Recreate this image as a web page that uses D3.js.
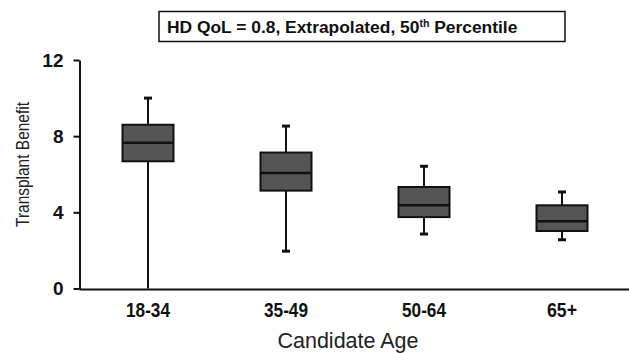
<!DOCTYPE html>
<html>
<head>
<meta charset="utf-8">
<script src="https://cdn.jsdelivr.net/npm/d3@7"></script>
<style>
  body { margin: 0; background: #fff; }
  svg { font-family: "Liberation Sans", Arial, sans-serif; }
</style>
</head>
<body>
<svg id="chart" width="629" height="353"></svg>
<script>
// values
const ages = ['18-34', '35-49', '50-64', '65+'];
const whiskerLow = [0, 1.96, 2.86, 2.56];
const q1 = [6.68, 5.14, 3.75, 3.02];
const medians = [7.65, 6.07, 4.37, 3.53];
const q3 = [8.6, 7.14, 5.33, 4.37];
const whiskerHigh = [10.0, 8.53, 6.42, 5.07];
const yTicks = [0, 4, 8, 12];

const svg = d3.select('#chart');

const x = d3.scaleBand().domain(ages).range([79, 631]);
const y = d3.scaleLinear().domain([0, 12]).range([288.5, 60]);

const boxW = 51;

// title box
svg.append('rect')
  .attr('x', 159).attr('y', 11.5).attr('width', 406).attr('height', 30)
  .attr('fill', '#fff').attr('stroke', '#111').attr('stroke-width', 1.5);
const title = svg.append('text')
  .attr('x', 167).attr('y', 33)
  .attr('font-size', 17.4).attr('font-weight', 'bold').attr('fill', '#111');
title.append('tspan').text('HD QoL = 0.8, Extrapolated, 50');
title.append('tspan').attr('font-size', 10.5).attr('dy', -6).text('th');
title.append('tspan').attr('dy', 6).text(' Percentile');

// y axis
const yAxis = svg.append('g')
  .attr('transform', 'translate(79.5,0)')
  .call(d3.axisLeft(y).tickValues(yTicks).tickSize(6).tickPadding(10).tickSizeOuter(0));
yAxis.select('.domain').attr('stroke', '#111').attr('stroke-width', 2);
yAxis.selectAll('.tick line').attr('stroke', '#111').attr('stroke-width', 2);
yAxis.selectAll('.tick text')
  .attr('font-size', 19).attr('font-weight', 'bold').attr('fill', '#111')
  .attr('font-family', '"Liberation Sans", Arial, sans-serif');

// x axis
const xAxis = svg.append('g')
  .attr('transform', 'translate(0,289)')
  .call(d3.axisBottom(x).tickSize(0).tickPadding(14).tickSizeOuter(0));
xAxis.select('.domain').attr('stroke', '#111').attr('stroke-width', 2);
xAxis.selectAll('.tick text')
  .attr('font-size', 20).attr('font-weight', 'bold').attr('fill', '#111')
  .attr('font-family', '"Liberation Sans", Arial, sans-serif')
  .attr('textLength', d => d === '65+' ? 30 : 44)
  .attr('lengthAdjust', 'spacingAndGlyphs');

// axis titles
svg.append('text')
  .attr('x', 348).attr('y', 348)
  .attr('text-anchor', 'middle').attr('font-size', 21.5).attr('fill', '#222')
  .text('Candidate Age');
svg.append('text')
  .attr('transform', 'translate(29,164.5) rotate(-90)')
  .attr('text-anchor', 'middle').attr('font-size', 19).attr('fill', '#222')
  .attr('textLength', 125).attr('lengthAdjust', 'spacingAndGlyphs')
  .text('Transplant Benefit');

// boxes
const data = ages.map((a, i) => ({
  age: a, lo: whiskerLow[i], q1: q1[i], med: medians[i], q3: q3[i], hi: whiskerHigh[i]
}));

const g = svg.append('g').selectAll('g').data(data).join('g')
  .attr('transform', d => `translate(${x(d.age) + x.bandwidth() / 2},0)`);

g.append('line')
  .attr('x1', 0).attr('x2', 0)
  .attr('y1', d => y(d.lo)).attr('y2', d => y(d.hi))
  .attr('stroke', '#111').attr('stroke-width', 2);

g.filter(d => d.lo > 0).append('line')
  .attr('x1', -4).attr('x2', 4)
  .attr('y1', d => y(d.lo)).attr('y2', d => y(d.lo))
  .attr('stroke', '#111').attr('stroke-width', 3);
g.append('line')
  .attr('x1', -4).attr('x2', 4)
  .attr('y1', d => y(d.hi)).attr('y2', d => y(d.hi))
  .attr('stroke', '#111').attr('stroke-width', 3);

g.append('rect')
  .attr('x', -boxW / 2).attr('width', boxW)
  .attr('y', d => y(d.q3)).attr('height', d => y(d.q1) - y(d.q3))
  .attr('fill', '#555').attr('stroke', '#111').attr('stroke-width', 2);

g.append('line')
  .attr('x1', -boxW / 2).attr('x2', boxW / 2)
  .attr('y1', d => y(d.med)).attr('y2', d => y(d.med))
  .attr('stroke', '#111').attr('stroke-width', 2.5);
</script>
</body>
</html>
